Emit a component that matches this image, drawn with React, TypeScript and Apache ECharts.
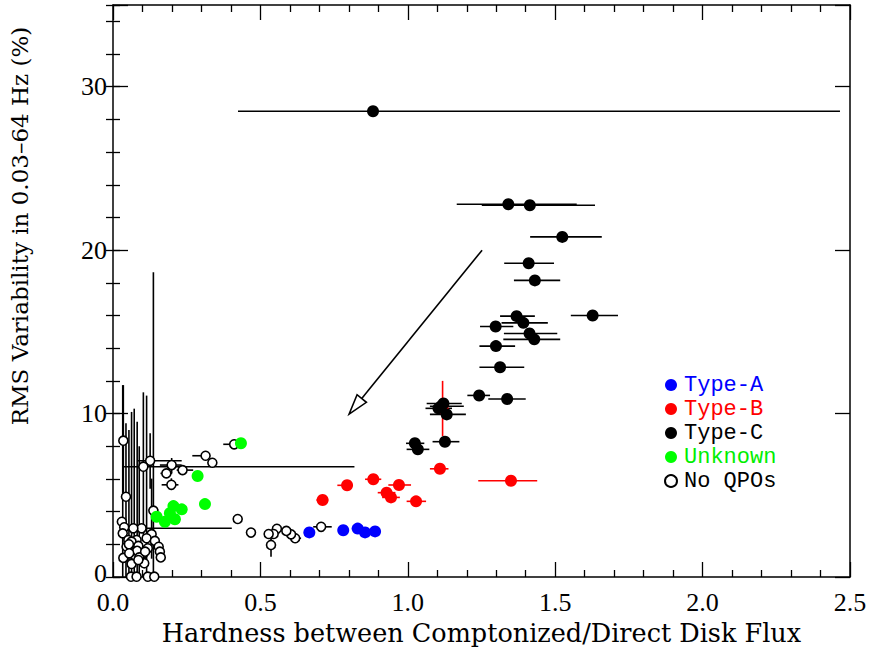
import React, { useEffect, useRef } from "react";
import * as echarts from "echarts";

// rows: [hardness, rms, xErrLow, xErrHigh, yErrLow, yErrHigh]
const typeA: number[][] = [
  [0.666, 2.73, 0.01, 0.012, 0, 0],
  [0.781, 2.86, 0.015, 0.012, 0, 0],
  [0.83, 2.96, 0.02, 0.015, 0, 0],
  [0.855, 2.73, 0.01, 0.01, 0, 0],
  [0.889, 2.79, 0.01, 0.015, 0, 0],
];

const typeB: number[][] = [
  [0.711, 4.71, 0.021, 0.019, 0, 0],
  [0.794, 5.61, 0.033, 0.016, 0, 0],
  [0.883, 5.98, 0.028, 0.027, 0, 0],
  [0.928, 5.16, 0.03, 0.03, 0, 0],
  [0.943, 4.87, 0.03, 0.03, 0, 0],
  [0.97, 5.63, 0.036, 0.041, 0, 0],
  [1.028, 4.63, 0.032, 0.034, 0, 0],
  [1.109, 6.62, 0.034, 0.029, 0, 0],
  [1.35, 5.89, 0.111, 0.089, 0, 0],
  [1.118, 10.3, 0.01, 0.01, 1.68, 1.7],
];

const typeC: number[][] = [
  [0.882, 28.5, 0.458, 1.584, 0, 0],
  [1.341, 22.81, 0.175, 0.232, 0, 0],
  [1.414, 22.75, 0.163, 0.221, 0, 0],
  [1.524, 20.81, 0.109, 0.134, 0, 0],
  [1.41, 19.2, 0.083, 0.086, 0, 0],
  [1.431, 18.15, 0.071, 0.086, 0, 0],
  [1.627, 16.0, 0.074, 0.086, 0, 0],
  [1.369, 15.96, 0.056, 0.062, 0, 0],
  [1.392, 15.55, 0.074, 0.083, 0, 0],
  [1.298, 15.33, 0.053, 0.06, 0, 0],
  [1.413, 14.9, 0.087, 0.094, 0, 0],
  [1.429, 14.54, 0.105, 0.088, 0, 0],
  [1.299, 14.13, 0.056, 0.065, 0, 0],
  [1.313, 12.83, 0.07, 0.082, 0, 0],
  [1.242, 11.11, 0.04, 0.037, 0, 0],
  [1.337, 10.89, 0.064, 0.063, 0, 0],
  [1.121, 10.62, 0.057, 0.062, 0, 0],
  [1.104, 10.32, 0.044, 0.046, 0, 0],
  [1.113, 10.45, 0.038, 0.077, 0, 0],
  [1.132, 9.95, 0.057, 0.065, 0, 0],
  [1.126, 8.28, 0.042, 0.049, 0, 0],
  [1.024, 8.18, 0.03, 0.032, 0, 0],
  [1.034, 7.81, 0.038, 0.039, 0, 0],
];

const unknownQPO: number[][] = [
  [0.148, 3.69, 0, 0, 0, 0],
  [0.176, 3.38, 0, 0, 0, 0],
  [0.193, 3.9, 0, 0, 0, 0],
  [0.205, 4.34, 0, 0, 0, 0],
  [0.21, 3.53, 0, 0, 0, 0],
  [0.233, 4.14, 0, 0, 0, 0],
  [0.287, 6.18, 0, 0, 0, 0],
  [0.312, 4.46, 0, 0, 0, 0],
  [0.434, 8.18, 0, 0, 0, 0],
];

const noQPO: number[][] = [
  [0.706, 3.07, 0.027, 0.036, 0, 0],
  [0.618, 2.37, 0.015, 0.02, 0, 0],
  [0.604, 2.61, 0.015, 0.02, 0, 0],
  [0.588, 2.82, 0.015, 0.012, 0, 0],
  [0.556, 2.95, 0, 0, 0, 0],
  [0.545, 2.63, 0, 0, 0, 0],
  [0.528, 2.63, 0, 0, 0, 0],
  [0.536, 1.96, 0, 0, 0.72, 0.73],
  [0.468, 2.72, 0, 0, 0, 0],
  [0.423, 3.55, 0, 0, 0, 0],
  [0.411, 8.12, 0.037, 0, 0, 0],
  [0.314, 7.42, 0.045, 0.015, 0, 0],
  [0.337, 6.99, 0, 0, 0, 0],
  [0.236, 6.54, 0.02, 0.036, 0, 0],
  [0.199, 6.85, 0.04, 0.034, 0.49, 0.43],
  [0.181, 6.34, 0.02, 0.02, 0, 0],
  [0.198, 5.64, 0.033, 0.024, 0.32, 0.4],
  [0.126, 7.11, 0.041, 0.107, 1.71, 1.69],
  [0.103, 6.75, 0.066, 0.716, 4.55, 4.55],
  [0.035, 8.34, 0, 0, 3.3, 3.4],
  [0.044, 4.91, 0, 0, 4.91, 4.5],
  [0.137, 4.06, 0, 0, 4.06, 14.59],
  [0.097, 2.98, 0.04, 0.306, 0, 0],
  [0.03, 3.38, 0, 0, 0, 0],
  [0.038, 3.04, 0, 0, 0, 0],
  [0.033, 2.67, 0, 0, 2.67, 9.07],
  [0.069, 2.98, 0, 0, 0, 0],
  [0.131, 2.62, 0, 0, 1.5, 3.4],
  [0.052, 2.26, 0, 0, 0, 0],
  [0.08, 2.26, 0, 0, 0, 0],
  [0.063, 2.16, 0, 0, 2.16, 7.94],
  [0.086, 1.9, 0, 0, 0, 0],
  [0.114, 2.37, 0, 0, 2.37, 8.73],
  [0.142, 2.21, 0, 0, 0, 0],
  [0.155, 1.85, 0, 0, 0, 0],
  [0.159, 1.55, 0, 0, 0, 0],
  [0.162, 1.2, 0, 0, 0, 0],
  [0.035, 1.17, 0, 0, 0, 0],
  [0.058, 1.55, 0, 0, 0, 0],
  [0.072, 1.35, 0, 0, 1.35, 8.95],
  [0.103, 1.45, 0, 0, 0, 0],
  [0.118, 1.76, 0, 0, 0, 0],
  [0.095, 1.04, 0, 0, 0, 0],
  [0.106, 0.84, 0, 0, 0, 0],
  [0.063, 0.8, 0, 0, 0, 0],
  [0.046, 1.85, 0, 0, 0, 0],
  [0.054, 2.0, 0, 0, 2.0, 7.0],
  [0.082, 1.6, 0, 0, 1.6, 7.9],
  [0.089, 1.2, 0, 0, 1.2, 6.8],
  [0.109, 1.55, 0, 0, 0, 0],
  [0.055, 1.45, 0, 0, 0, 0],
  [0.086, 1.04, 0, 0, 0, 0],
  [0.061, 0.02, 0, 0, 0, 0],
  [0.08, 0.02, 0, 0, 0, 0],
  [0.118, 0.02, 0, 0, 0, 0],
  [0.14, 0.02, 0, 0, 0, 0],
];

// arrow: [fromX, fromY, toX, toY]
const arrowData: number[][] = [[1.252, 20.0, 0.801, 9.97]];

const xTicks = { min: 0, max: 2.5, interval: 0.5 };
const yTicks = { min: 0, max: 35, interval: 10, minorInterval: 2 };

const TICK_FONT = "'Liberation Serif', serif";
const TITLE_FONT = "'DejaVu Serif', serif";
const LEGEND_FONT = "'Liberation Mono', monospace";

function errorBarSeries(data: number[][], color: string) {
  return {
    type: "custom",
    silent: true,
    z: 2,
    data,
    encode: { x: 0, y: 1 },
    renderItem: (params: any, api: any) => {
      const x = api.value(0);
      const y = api.value(1);
      const dxl = api.value(2);
      const dxh = api.value(3);
      const dyl = api.value(4);
      const dyh = api.value(5);
      const children: any[] = [];
      if (dxl > 0 || dxh > 0) {
        const a = api.coord([x - dxl, y]);
        const b = api.coord([x + dxh, y]);
        children.push({
          type: "line",
          shape: { x1: a[0], y1: a[1], x2: b[0], y2: b[1] },
          style: { stroke: color, lineWidth: 1.6 },
        });
      }
      if (dyl > 0 || dyh > 0) {
        const a = api.coord([x, y - dyl]);
        const b = api.coord([x, y + dyh]);
        children.push({
          type: "line",
          shape: { x1: a[0], y1: a[1], x2: b[0], y2: b[1] },
          style: { stroke: color, lineWidth: 1.6 },
        });
      }
      return { type: "group", children };
    },
  };
}

function pointSeries(name: string, data: number[][], style: any, size: number) {
  return {
    name,
    type: "scatter",
    z: 3,
    data: data.map((r) => [r[0], r[1]]),
    symbol: "circle",
    symbolSize: size,
    itemStyle: { opacity: 1, ...style },
    emphasis: { disabled: true },
  };
}

export default function App() {
  const ref = useRef<HTMLDivElement>(null);
  useEffect(() => {
    if (!ref.current) return;
    const chart = echarts.init(ref.current, null, { renderer: "svg" });
    const axisLine = { show: true, onZero: false, lineStyle: { color: "#000", width: 1.5 } };
    const majorTick = { show: true, inside: true, length: 15, lineStyle: { color: "#000", width: 1.3 } };
    const minorTickY = { show: true, inside: true, length: 7, lineStyle: { color: "#000", width: 1.3 } };
    const xMinor = { show: true, splitNumber: 5, length: 7, lineStyle: { color: "#000", width: 1.3 } };

    const option: any = {
      animation: false,
      backgroundColor: "#fff",
      grid: { left: 113, right: 22, top: 5, bottom: 74 },
      xAxis: [
        {
          type: "value",
          position: "bottom",
          min: xTicks.min,
          max: xTicks.max,
          interval: xTicks.interval,
          axisLine,
          axisTick: majorTick,
          minorTick: xMinor,
          splitLine: { show: false },
          axisLabel: {
            color: "#000",
            fontFamily: TICK_FONT,
            fontSize: 26,
            lineHeight: 22,
            margin: 14,
            formatter: (v: number) => v.toFixed(1),
          },
          name: "Hardness between Comptonized/Direct Disk Flux",
          nameLocation: "middle",
          nameGap: 41,
          nameTextStyle: { color: "#000", fontFamily: TITLE_FONT, fontSize: 25.5 },
        },
        {
          type: "value",
          position: "top",
          min: xTicks.min,
          max: xTicks.max,
          interval: xTicks.interval,
          axisLine,
          axisTick: majorTick,
          minorTick: xMinor,
          splitLine: { show: false },
          axisLabel: { show: false },
        },
      ],
      yAxis: [
        {
          type: "value",
          position: "left",
          min: yTicks.min,
          max: yTicks.max,
          interval: yTicks.interval,
          axisLine,
          axisTick: majorTick,
          splitLine: { show: false },
          axisLabel: {
            color: "#000",
            fontFamily: TICK_FONT,
            fontSize: 26,
            lineHeight: 20,
            margin: 6,
            formatter: (v: number) =>
              v === 0 ? "{zero|0}" : v % 10 === 0 ? String(v) : "",
            rich: {
              zero: {
                fontFamily: TICK_FONT,
                fontSize: 26,
                lineHeight: 20,
                color: "#000",
                padding: [0, 0, 8, 0],
              },
            },
          },
        },
        {
          type: "value",
          position: "left",
          min: yTicks.min,
          max: yTicks.max,
          interval: yTicks.minorInterval,
          axisLine: { show: false },
          axisTick: minorTickY,
          splitLine: { show: false },
          axisLabel: { show: false },
        },
        {
          type: "value",
          position: "right",
          min: yTicks.min,
          max: yTicks.max,
          interval: yTicks.interval,
          axisLine,
          axisTick: majorTick,
          splitLine: { show: false },
          axisLabel: { show: false },
        },
        {
          type: "value",
          position: "right",
          min: yTicks.min,
          max: yTicks.max,
          interval: yTicks.minorInterval,
          axisLine: { show: false },
          axisTick: minorTickY,
          splitLine: { show: false },
          axisLabel: { show: false },
        },
      ],
      legend: {
        orient: "vertical",
        left: 659,
        top: 369,
        itemWidth: 12,
        itemHeight: 12,
        itemGap: 2,
        icon: "circle",
        textStyle: { fontFamily: LEGEND_FONT, fontSize: 22, padding: [0, 0, 0, 2] },
        data: [
          { name: "Type-A", textStyle: { color: "#0000ff" } },
          { name: "Type-B", textStyle: { color: "#ff0000" } },
          { name: "Type-C", textStyle: { color: "#000000" } },
          { name: "Unknown", textStyle: { color: "#00ee00" } },
          { name: "No QPOs", textStyle: { color: "#000000" } },
        ],
      },
      graphic: [
        {
          type: "text",
          x: 20,
          y: 226,
          rotation: Math.PI / 2,
          style: {
            text: "RMS Variability in 0.03–64 Hz (%)",
            font: `23px ${TITLE_FONT}`,
            fill: "#000",
            align: "center",
            verticalAlign: "middle",
          },
        },
      ],
      series: [
        errorBarSeries(noQPO, "#000"),
        errorBarSeries(unknownQPO, "#00ff00"),
        errorBarSeries(typeA, "#0000ff"),
        errorBarSeries(typeB, "#ff0000"),
        errorBarSeries(typeC, "#000"),
        {
          type: "custom",
          silent: true,
          z: 2,
          data: arrowData,
          encode: { x: [0, 2], y: [1, 3] },
          renderItem: (params: any, api: any) => {
            const p1 = api.coord([api.value(0), api.value(1)]);
            const p2 = api.coord([api.value(2), api.value(3)]);
            const dx = p2[0] - p1[0];
            const dy = p2[1] - p1[1];
            const len = Math.sqrt(dx * dx + dy * dy);
            const ux = dx / len;
            const uy = dy / len;
            const L = 20;
            const W = 6;
            const bx = p2[0] - ux * L;
            const by = p2[1] - uy * L;
            const nx = -uy;
            const ny = ux;
            return {
              type: "group",
              children: [
                {
                  type: "line",
                  shape: { x1: p1[0], y1: p1[1], x2: bx, y2: by },
                  style: { stroke: "#000", lineWidth: 1.6 },
                },
                {
                  type: "polygon",
                  shape: {
                    points: [
                      [p2[0], p2[1]],
                      [bx + nx * W, by + ny * W],
                      [bx - nx * W, by - ny * W],
                    ],
                  },
                  style: { fill: "#fff", stroke: "#000", lineWidth: 1.6 },
                },
              ],
            };
          },
        },
        pointSeries("No QPOs", noQPO, { color: "#fff", borderColor: "#000", borderWidth: 1.6 }, 9),
        pointSeries("Unknown", unknownQPO, { color: "#00ff00" }, 12),
        pointSeries("Type-A", typeA, { color: "#0000ff" }, 12),
        pointSeries("Type-B", typeB, { color: "#ff0000" }, 12),
        pointSeries("Type-C", typeC, { color: "#000000" }, 12),
      ],
    };
    chart.setOption(option);
    return () => chart.dispose();
  }, []);
  return (
    <div
      ref={ref}
      style={{ position: "fixed", left: 0, top: 0, width: 872, height: 651, background: "#fff" }}
    />
  );
}
